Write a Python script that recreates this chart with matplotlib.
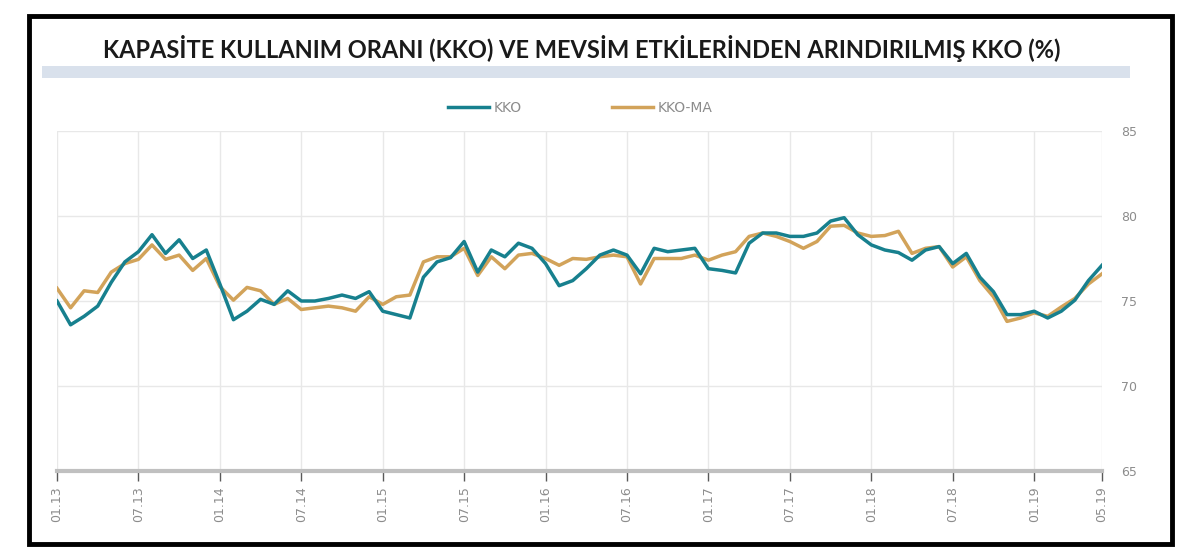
import matplotlib
import matplotlib.pyplot as plt
import numpy as np

matplotlib.use("Agg")

# monthly values, 01.13 onward
kko = [75.0, 73.6, 74.1, 74.7, 76.1, 77.3, 77.9, 78.9, 77.8, 78.6,
       77.5, 78.0, 76.0, 73.9, 74.4, 75.1, 74.8, 75.6, 75.0, 75.0,
       75.15, 75.35, 75.15, 75.55, 74.4, 74.2, 74.0, 76.4, 77.3, 77.55,
       78.5, 76.7, 78.0, 77.6, 78.4, 78.1, 77.2, 75.9, 76.2, 76.9,
       77.7, 78.0, 77.7, 76.6, 78.1, 77.9, 78.0, 78.1, 76.9, 76.8,
       76.65, 78.4, 79.0, 79.0, 78.8, 78.8, 79.0, 79.7, 79.9, 78.9,
       78.3, 78.0, 77.85, 77.4, 78.0, 78.2, 77.2, 77.8, 76.4, 75.55,
       74.2, 74.2, 74.4, 74.0, 74.4, 75.05, 76.2, 77.1]
kko_ma = [75.75, 74.6, 75.6, 75.5, 76.7, 77.2, 77.45, 78.3, 77.45, 77.7,
          76.8, 77.5, 75.85, 75.05, 75.8, 75.6, 74.8, 75.15, 74.5, 74.6,
          74.7, 74.6, 74.4, 75.25, 74.8, 75.25, 75.35, 77.3, 77.6, 77.6,
          78.1, 76.5, 77.6, 76.9, 77.7, 77.8, 77.5, 77.1, 77.5, 77.45,
          77.6, 77.7, 77.6, 76.0, 77.5, 77.5, 77.5, 77.7, 77.4, 77.7,
          77.9, 78.8, 79.0, 78.8, 78.5, 78.1, 78.5, 79.4, 79.45, 79.0,
          78.8, 78.85, 79.1, 77.8, 78.1, 78.2, 77.0, 77.6, 76.2, 75.25,
          73.8, 74.0, 74.3, 74.1, 74.65, 75.15, 76.0, 76.6]
tick_pos = [0, 6, 12, 18, 24, 30, 36, 42, 48, 54, 60, 66, 72, 77]
tick_labels = ['01.13', '07.13', '01.14', '07.14', '01.15', '07.15', '01.16',
               '07.16', '01.17', '07.17', '01.18', '07.18', '01.19', '05.19']
y_ticks = [65, 70, 75, 80, 85]

teal = '#17808e'
gold = '#d2a35a'
grey_txt = '#8c8c8c'

fig = plt.figure(figsize=(12, 5.6), dpi=100)

# outer frame
frame = plt.Rectangle((0.024, 0.028), 0.953, 0.944, transform=fig.transFigure,
                      fill=False, lw=3.5, ec='black')
fig.patches.append(frame)

fig.text(0.485, 1 - 48 / 560, 'KAPASİTE KULLANIM ORANI (KKO) VE MEVSİM ETKİLERİNDEN ARINDIRILMIŞ KKO (%)',
         ha='center', va='center', fontsize=17, fontweight='bold', family='Lato', color='#1a1a1a')
band = plt.Rectangle((42 / 1200, 1 - 78 / 560), (1130 - 42) / 1200, 12 / 560,
                     transform=fig.transFigure, color='#d9e1ec', lw=0)
fig.patches.append(band)

ax = fig.add_axes([57 / 1200, 1 - 471 / 560, 1045 / 1200, 340 / 560])
x = np.arange(len(kko))
ax.plot(x, kko, color=teal, lw=2.5, label='KKO', zorder=3)
ax.plot(x, kko_ma, color=gold, lw=2.5, label='KKO-MA', zorder=2)

ax.set_xlim(0, len(kko) - 1)
ax.set_ylim(65, 85)
ax.set_yticks(y_ticks)
ax.set_xticks(tick_pos)
ax.set_xticklabels(tick_labels, rotation=90)
ax.yaxis.tick_right()
ax.tick_params(axis='y', length=0, pad=14, labelcolor=grey_txt, labelsize=9)
ax.tick_params(axis='x', length=7, width=1, color='#595959', pad=4,
               labelcolor=grey_txt, labelsize=9)
ax.grid(True, color='#e8e8e8', lw=1)
for side in ['top', 'right', 'left']:
    ax.spines[side].set_visible(False)
ax.spines['bottom'].set_color('#c0c0c0')
ax.spines['bottom'].set_linewidth(3)

leg = fig.legend(loc='center', bbox_to_anchor=(580 / 1200, 1 - 108 / 560), ncol=2, frameon=False,
                 fontsize=10, handlelength=3.0, columnspacing=6.5, handletextpad=0.3)
for t in leg.get_texts():
    t.set_color(grey_txt)

plt.savefig('out.png', dpi=100)
